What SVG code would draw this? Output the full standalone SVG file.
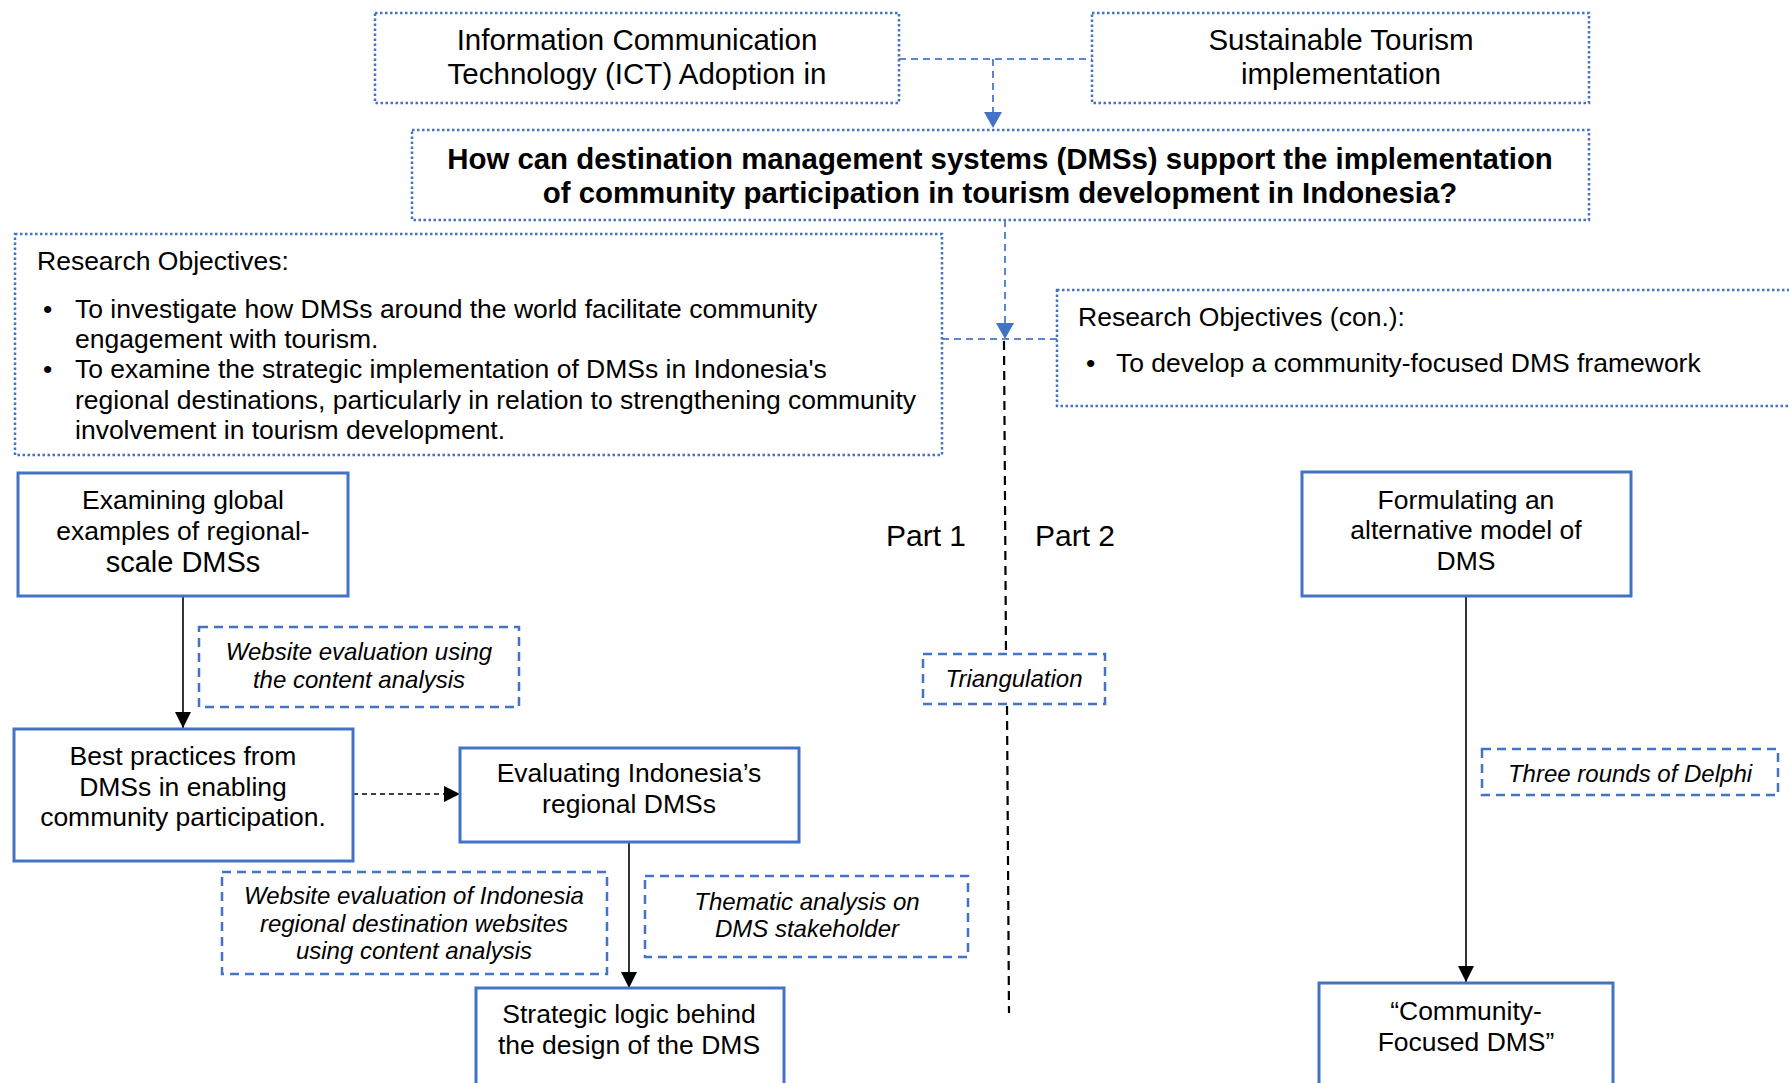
<svg xmlns="http://www.w3.org/2000/svg" width="1789" height="1083" viewBox="0 0 1789 1083">
<style>
  .dot { fill: #fff; stroke: #4472C4; stroke-width: 2.5; stroke-dasharray: 2.5 2.5; }
  .solid { fill: #fff; stroke: #4472C4; stroke-width: 3; }
  .dash { fill: #fff; stroke: #4472C4; stroke-width: 2.5; stroke-dasharray: 9 6; }
  .t { font-family: "Liberation Sans", Arial, sans-serif; fill: #000; }
  .c { text-anchor: middle; }
  .b26 { font-size: 26.5px; }
  .top { font-size: 29.5px; }
  .q { font-size: 29.4px; font-weight: bold; }
  .it { font-size: 24px; font-style: italic; }
  .part { font-size: 30px; }
  .bl { fill: none; stroke: #5B86D0; stroke-width: 2; stroke-dasharray: 7 5; }
  .blk { fill: none; stroke: #000; stroke-width: 1.6; }
  .blkd { fill: none; stroke: #000; stroke-width: 1.6; stroke-dasharray: 5 4; }
  .div { fill: none; stroke: #000; stroke-width: 2.2; stroke-dasharray: 9 6; }
</style>
<defs>
  <marker id="ab" markerWidth="16" markerHeight="18" refX="16" refY="9" orient="auto" markerUnits="userSpaceOnUse">
    <path d="M0,0 L16,9 L0,18 Z" fill="#4472C4"/>
  </marker>
  <marker id="ak" markerWidth="16" markerHeight="16" refX="16" refY="8" orient="auto" markerUnits="userSpaceOnUse">
    <path d="M0,0 L16,8 L0,16 Z" fill="#000"/>
  </marker>
</defs>
<rect width="1789" height="1083" fill="#fff"/>

<g id="connectors">
  <path class="bl" d="M899,59 L1092,59"/>
  <path class="bl" d="M993,59 L993,128" marker-end="url(#ab)"/>
  <path class="bl" d="M1005,220 L1005,339" marker-end="url(#ab)"/>
  <path class="bl" d="M942,339 L1057,339"/>
  <path class="div" d="M1004,341 L1006,654"/>
  <path class="div" d="M1007,706 L1009,1013"/>
  <path class="blk" d="M183,596 L183,728" marker-end="url(#ak)"/>
  <path class="blkd" d="M353,794 L460,794" marker-end="url(#ak)"/>
  <path class="blk" d="M629,842 L629,988" marker-end="url(#ak)"/>
  <path class="blk" d="M1466,596 L1466,982" marker-end="url(#ak)"/>
</g>

<g id="ict">
  <rect class="dot" x="375" y="13" width="524" height="90"/>
  <text class="t c top" x="637" y="50">Information Communication</text>
  <text class="t c top" x="637" y="84">Technology (ICT) Adoption in</text>
</g>
<g id="sustainable">
  <rect class="dot" x="1092" y="13" width="497" height="90"/>
  <text class="t c top" x="1341" y="50">Sustainable Tourism</text>
  <text class="t c top" x="1341" y="84">implementation</text>
</g>
<g id="question">
  <rect class="dot" x="412" y="130" width="1177" height="90"/>
  <text class="t c q" x="1000" y="169">How can destination management systems (DMSs) support the implementation</text>
  <text class="t c q" x="1000" y="203">of community participation in tourism development in Indonesia?</text>
</g>
<g id="objectives">
  <rect class="dot" x="15" y="234" width="927" height="221"/>
  <text class="t b26" x="37" y="270">Research Objectives:</text>
  <text class="t b26" x="43" y="318">•</text>
  <text class="t b26" x="75" y="318">To investigate how DMSs around the world facilitate community</text>
  <text class="t b26" x="75" y="348">engagement with tourism.</text>
  <text class="t b26" x="43" y="378">•</text>
  <text class="t b26" x="75" y="378">To examine the strategic implementation of DMSs in Indonesia's</text>
  <text class="t b26" x="75" y="409">regional destinations, particularly in relation to strengthening community</text>
  <text class="t b26" x="75" y="439">involvement in tourism development.</text>
</g>
<g id="objectives-con">
  <rect class="dot" x="1057" y="290" width="800" height="116"/>
  <text class="t b26" x="1078" y="326">Research Objectives (con.):</text>
  <text class="t b26" x="1086" y="372">•</text>
  <text class="t b26" x="1116" y="372">To develop a community-focused DMS framework</text>
</g>
<g id="part1"><text class="t c part" x="926" y="546">Part 1</text></g>
<g id="part2"><text class="t c part" x="1075" y="546">Part 2</text></g>
<g id="triangulation">
  <rect class="dash" x="923" y="654" width="182" height="50"/>
  <text class="t c it" x="1014" y="687">Triangulation</text>
</g>

<g id="examining">
  <rect class="solid" x="18" y="473" width="330" height="123"/>
  <text class="t c b26" x="183" y="509">Examining global</text>
  <text class="t c b26" x="183" y="540">examples of regional-</text>
  <text class="t c" style="font-size:29px" x="183" y="572">scale DMSs</text>
</g>
<g id="web-eval">
  <rect class="dash" x="199" y="627" width="320" height="80"/>
  <text class="t c it" x="359" y="660">Website evaluation using</text>
  <text class="t c it" x="359" y="688">the content analysis</text>
</g>
<g id="best-practices">
  <rect class="solid" x="14" y="729" width="339" height="132"/>
  <text class="t c b26" x="183" y="765">Best practices from</text>
  <text class="t c b26" x="183" y="796">DMSs in enabling</text>
  <text class="t c b26" x="183" y="826">community participation.</text>
</g>
<g id="evaluating">
  <rect class="solid" x="460" y="748" width="339" height="94"/>
  <text class="t c b26" x="629" y="782">Evaluating Indonesia’s</text>
  <text class="t c b26" x="629" y="813">regional DMSs</text>
</g>
<g id="web-eval-indonesia">
  <rect class="dash" x="222" y="872" width="385" height="102"/>
  <text class="t c it" x="414" y="904">Website evaluation of Indonesia</text>
  <text class="t c it" x="414" y="932">regional destination websites</text>
  <text class="t c it" x="414" y="959">using content analysis</text>
</g>
<g id="thematic">
  <rect class="dash" x="645" y="876" width="323" height="81"/>
  <text class="t c it" x="807" y="910">Thematic analysis on</text>
  <text class="t c it" x="807" y="937">DMS stakeholder</text>
</g>
<g id="strategic">
  <rect class="solid" x="476" y="988" width="308" height="120"/>
  <text class="t c b26" x="629" y="1023">Strategic logic behind</text>
  <text class="t c b26" x="629" y="1054">the design of the DMS</text>
</g>

<g id="formulating">
  <rect class="solid" x="1302" y="472" width="329" height="124"/>
  <text class="t c b26" x="1466" y="509">Formulating an</text>
  <text class="t c b26" x="1466" y="539">alternative model of</text>
  <text class="t c b26" x="1466" y="570">DMS</text>
</g>
<g id="delphi">
  <rect class="dash" x="1482" y="749" width="296" height="46"/>
  <text class="t c it" x="1630" y="782">Three rounds of Delphi</text>
</g>
<g id="community-dms">
  <rect class="solid" x="1319" y="983" width="294" height="120"/>
  <text class="t c b26" x="1466" y="1020">“Community-</text>
  <text class="t c b26" x="1466" y="1051">Focused DMS”</text>
</g>
</svg>
